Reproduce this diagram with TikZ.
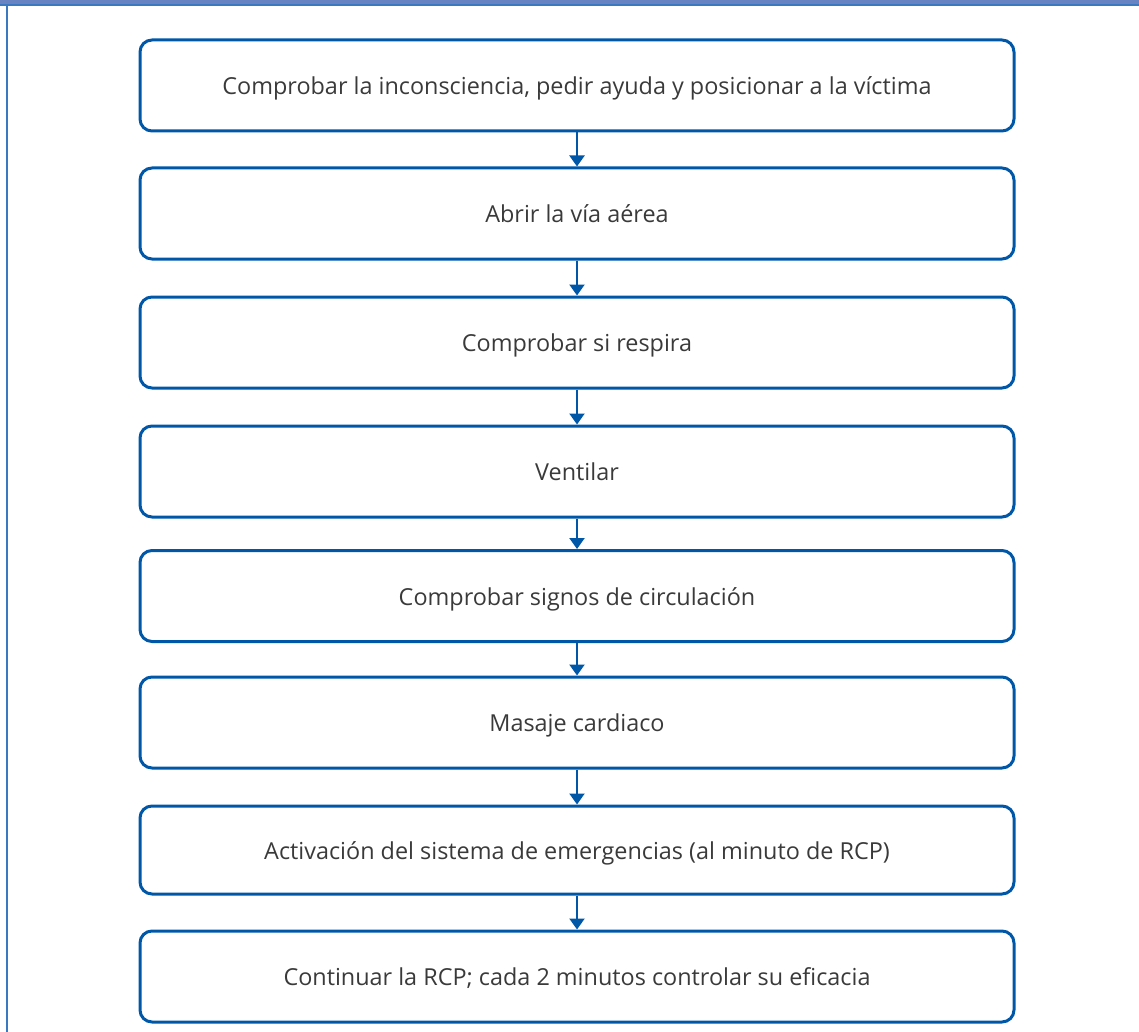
\documentclass[tikz,border=0pt]{standalone}
\usepackage{fontspec}
\setmainfont{Open Sans}
\usetikzlibrary{arrows.meta}
\definecolor{boxblue}{HTML}{0057A8}
\definecolor{barblue}{HTML}{6783C2}
\definecolor{edgeblue}{HTML}{3A78C2}
\definecolor{txtgray}{HTML}{3A3A3A}
\begin{document}
\begin{tikzpicture}[x=0.5pt,y=-0.5pt]
\tikzset{stepbox/.style={draw=boxblue, line width=1.5pt, rounded corners=6pt, minimum width=437pt, minimum height=45.5pt, text=txtgray, font=\fontsize{11.7}{14}\selectfont, inner sep=0pt, text height=9pt, text depth=0pt}}
\tikzset{flow/.style={draw=boxblue, line width=1.1pt, -{Triangle[width=7.5pt,length=5.5pt]}}}
\useasboundingbox (0,0) rectangle (1139,1032);
\fill[barblue] (0,0) rectangle (1139,4);
\draw[edgeblue, line width=1pt] (0,5) -- (1139,5);
\draw[edgeblue, line width=1pt] (7,5) -- (7,1032);
\node[stepbox] (s0) at (577,85.5){Comprobar la inconsciencia, pedir ayuda y posicionar a la víctima};
\node[stepbox] (s1) at (577,213.5){Abrir la vía aérea};
\node[stepbox] (s2) at (577,342.5){Comprobar si respira};
\node[stepbox] (s3) at (577,471.5){Ventilar};
\node[stepbox] (s4) at (577,596){Comprobar signos de circulación};
\node[stepbox] (s5) at (577,722.5){Masaje cardiaco};
\node[stepbox, minimum height=44pt] (s6) at (577,850){Activación del sistema de emergencias (al minuto de RCP)};
\node[stepbox] (s7) at (577,976.5){Continuar la RCP; cada 2 minutos controlar su eficacia};
\draw[flow](s0) -- (s1);
\draw[flow](s1) -- (s2);
\draw[flow](s2) -- (s3);
\draw[flow](s3) -- (s4);
\draw[flow](s4) -- (s5);
\draw[flow](s5) -- (s6);
\draw[flow](s6) -- (s7);
\end{tikzpicture}
\end{document}
